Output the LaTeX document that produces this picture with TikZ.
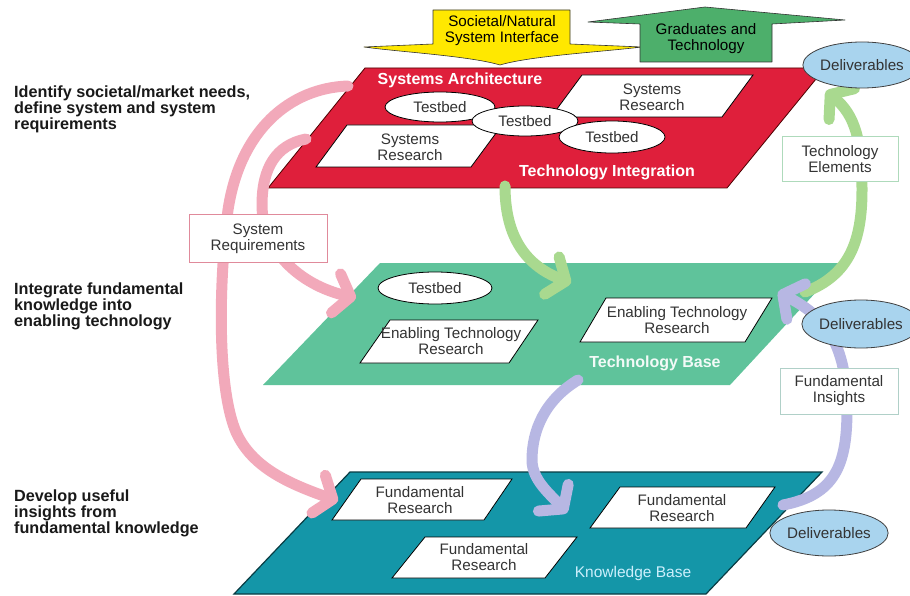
\documentclass[tikz,border=0pt]{standalone}
\usepackage{fontspec}
\setmainfont{Liberation Sans}
\usetikzlibrary{arrows.meta,shapes.geometric}

\definecolor{planeRed}{HTML}{DF1F3B}
\definecolor{planeGreen}{HTML}{5FC39B}
\definecolor{planeTeal}{HTML}{1496A8}
\definecolor{arrowPink}{HTML}{F2A9BA}
\definecolor{arrowGreen}{HTML}{A9D98F}
\definecolor{arrowLav}{HTML}{B7B7E3}
\definecolor{delivBlue}{HTML}{A9D4EE}
\definecolor{bannerYellow}{HTML}{FFE800}
\definecolor{bannerGreen}{HTML}{4DAF6B}
\definecolor{inkGray}{HTML}{333333}
\definecolor{rimPink}{HTML}{E08A9B}
\definecolor{rimGreen}{HTML}{AEDABB}
\definecolor{rimTeal}{HTML}{B0D0C8}

\begin{document}
\begin{tikzpicture}[x=1pt,y=-1pt,
  every node/.style={inner sep=0pt},
  body/.style={font=\fontsize{15.2}{16}\selectfont, text=inkGray, align=center},
  headline/.style={font=\bfseries\fontsize{16.2}{16}\selectfont, text=black!90, align=left, anchor=west},
  planelabel/.style={font=\bfseries\fontsize{16}{16}\selectfont, text=white},
  card/.style={fill=white, draw=black, line width=0.8pt},
  testbed/.style={ellipse, fill=white, draw=black, line width=0.8pt, body},
  deliv/.style={ellipse, fill=delivBlue, draw=black!75, line width=0.8pt, body},
  tag/.style={rectangle, fill=white, draw=#1, line width=1pt, body},
  fat/.style={line width=11pt, draw=#1, line cap=round,
    -{Straight Barb[length=15pt,width=40pt,round]}},
  banner/.style={draw=black!80, line width=0.6pt, line join=round}]

% canvas
\fill[white] (0,0) rectangle (910,596);
\path[use as bounding box] (0,0) rectangle (910,596);

% ---------- top banners ----------
\filldraw[banner, fill=bannerYellow]
  (433,44) -- (433,10) -- (570,10) -- (570,44) -- (642,47)
  .. controls (600,52) and (530,56) .. (500,65)
  .. controls (470,56) and (400,52) .. (364,47) -- cycle;
\node[body, text=black] (societal) at (502,31) {Societal/Natural\\System Interface};

\filldraw[banner, fill=bannerGreen]
  (640,62) -- (640,24) -- (588,22) -- (705,7) -- (845,20) -- (772,24) -- (772,62) -- cycle;
\node[body, text=black] (graduates) at (706,39) {Graduates and\\Technology};

% ---------- left-hand captions ----------
\node[headline] (capTop) at (14,109) {Identify societal/market needs,\\define system and system\\requirements};
\node[headline] (capMid) at (14,306) {Integrate fundamental\\knowledge into\\enabling technology};
\node[headline] (capLow) at (14,513) {Develop useful\\insights from\\fundamental knowledge};

% ---------- Technology Integration plane ----------
\filldraw[fill=planeRed, draw=black!70!red, line width=0.8pt]
  (365,68) -- (825,68) -- (727,188) -- (268,188) -- cycle;
\node[planelabel] (sysArch) at (460,80) {Systems Architecture};
\node[planelabel] (techInt) at (607,172) {Technology Integration};

\filldraw[card] (582,75) -- (753,75) -- (722,117) -- (551,117) -- cycle;
\node[body] (srUpper) at (652,97) {Systems\\Research};
\filldraw[card] (347,125) -- (502,125) -- (471,167) -- (316,167) -- cycle;
\node[body] (srLower) at (410,147) {Systems\\Research};

\node[testbed, minimum width=110pt, minimum height=30pt] (tb1) at (440,107) {Testbed};
\node[testbed, minimum width=106pt, minimum height=30pt] (tb2) at (525,121) {Testbed};
\node[testbed, minimum width=106pt, minimum height=32pt] (tb3) at (612,137) {Testbed};

% ---------- Technology Base plane ----------
\fill[planeGreen] (380,263) -- (843,263) -- (730,385) -- (263,385) -- cycle;
\node[planelabel, text=white!92!planeGreen] (techBase) at (655,363) {Technology Base};

\node[testbed, minimum width=114pt, minimum height=32pt] (tb4) at (435,288) {Testbed};
\filldraw[card] (390,320) -- (538,320) -- (509,363) -- (360,363) -- cycle;
\node[body] (etrLeft) at (451,341) {Enabling Technology\\Research};
\filldraw[card] (606,298) -- (772,298) -- (745,342) -- (580,342) -- cycle;
\node[body] (etrRight) at (677,320) {Enabling Technology\\Research};

% ---------- Knowledge Base plane ----------
\filldraw[fill=planeTeal, draw=black!60!planeTeal, line width=1.2pt]
  (350,472) -- (822,472) -- (706,594) -- (234,594) -- cycle;
\node[font=\fontsize{15.5}{16}\selectfont, text=white!80!cyan] (knowBase) at (633,573) {Knowledge Base};

\filldraw[card] (361,479) -- (512,479) -- (484,520) -- (332,520) -- cycle;
\node[body] (fr1) at (420,500) {Fundamental\\Research};
\filldraw[card] (620,487) -- (775,487) -- (746,528) -- (590,528) -- cycle;
\node[body] (fr2) at (682,508) {Fundamental\\Research};
\filldraw[card] (425,537) -- (577,537) -- (545,578) -- (392,578) -- cycle;
\node[body] (fr3) at (484,557) {Fundamental\\Research};

% ---------- flow arrows ----------
\coordinate (pinkOutA) at (348,86);
\coordinate (pinkOutB) at (338,501);
\coordinate (pinkInA)  at (306,139);
\coordinate (pinkInB)  at (356,298);
\coordinate (grnDownA) at (505,186);
\coordinate (grnDownB) at (571,283);
\coordinate (grnUpA)   at (805,292);
\coordinate (grnUpB)   at (826,91);
\coordinate (lavDownA) at (578,380);
\coordinate (lavDownB) at (567,513);
\coordinate (lavUpA)   at (783,505);
\coordinate (lavUpB)   at (778,292);

\draw[fat=arrowPink] (pinkOutA) .. controls (290,88) and (240,130) .. (228,210)
  .. controls (218,290) and (218,390) .. (236,432)
  .. controls (252,468) and (290,484) .. (pinkOutB);
\draw[fat=arrowPink] (pinkInA) .. controls (276,145) and (262,168) .. (262,205)
  .. controls (262,250) and (300,285) .. (pinkInB);
\draw[fat=arrowGreen] (grnDownA) .. controls (505,232) and (522,264) .. (grnDownB);
\draw[fat=arrowGreen] (grnUpA) .. controls (850,275) and (862,240) .. (862,190)
  .. controls (862,140) and (855,115) .. (grnUpB);
\draw[fat=arrowLav] (lavDownA) .. controls (545,400) and (532,430) .. (532,460)
  .. controls (532,480) and (550,494) .. (lavDownB);
\draw[fat=arrowLav] (lavUpA) .. controls (835,495) and (847,465) .. (847,410)
  .. controls (847,340) and (822,315) .. (lavUpB);

% ---------- flow labels ----------
\node[tag=rimPink, minimum width=138pt, minimum height=47pt] (sysReq) at (258,238.5) {System\\Requirements};
\node[tag=rimGreen, minimum width=116pt, minimum height=45pt] (techElem) at (840,159.5) {Technology\\Elements};
\node[tag=rimTeal, minimum width=118pt, minimum height=46pt] (fundIns) at (839,391) {Fundamental\\Insights};

\node[deliv, minimum width=96pt, minimum height=46pt] (delivTop) at (862,65) {Deliverables};
\node[deliv, minimum width=98pt, minimum height=48pt] (delivMid) at (861,324) {Deliverables};
\node[deliv, minimum width=112pt, minimum height=46pt] (delivLow) at (829,533) {Deliverables};

\end{tikzpicture}
\end{document}
